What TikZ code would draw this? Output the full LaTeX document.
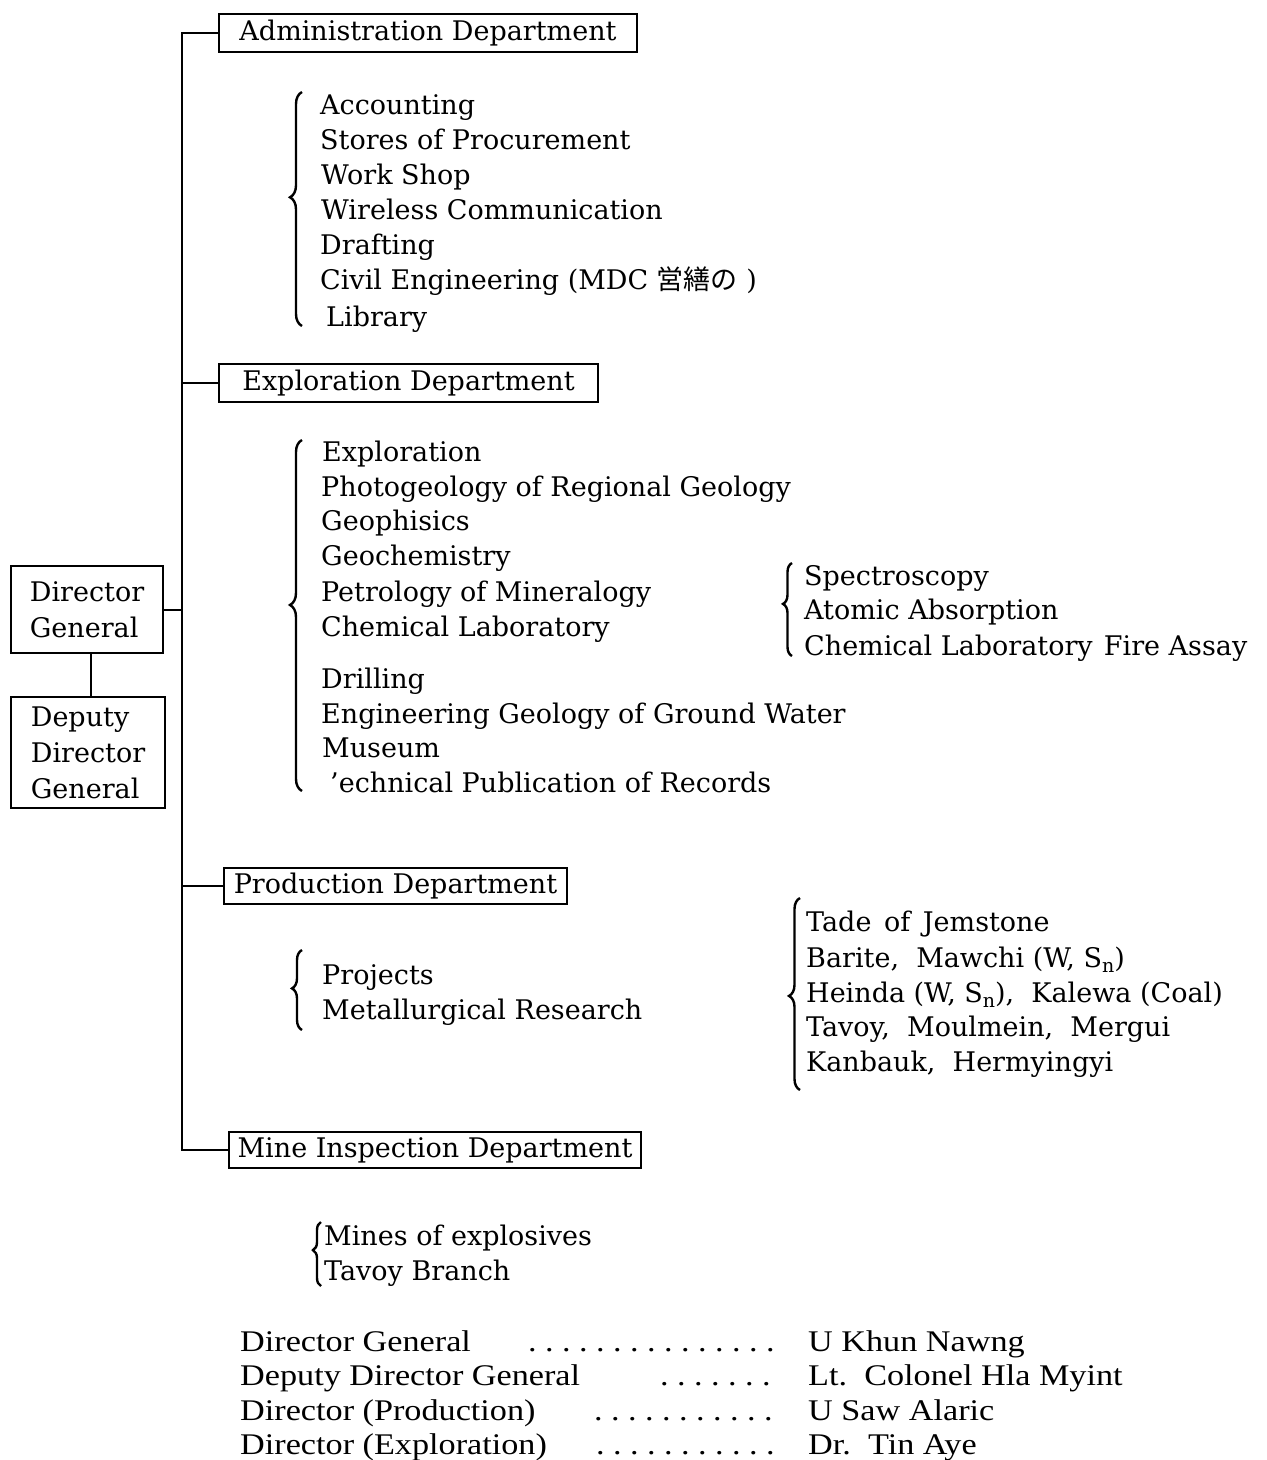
\documentclass[tikz,border=0pt]{standalone}
\usepackage{fontspec}
\setmainfont{DejaVu Serif}
\newfontfamily\cjkfont{Noto Sans CJK JP}
\newfontfamily\tablefont[FakeStretch=1.14]{Liberation Serif}
\usetikzlibrary{decorations.pathreplacing}
\newcommand\mainfs{\fontsize{27}{36}\selectfont}
\newcommand\tabfs{\tablefont\fontsize{30}{36}\selectfont}
\newcommand\subn{\raisebox{-5pt}{\fontsize{19}{19}\selectfont n}}
\newcommand\dd{\makebox[17pt][l]{.}}
\begin{document}
\begin{tikzpicture}[x=1pt,y=-1pt,
  dept/.style={draw, line width=2pt, inner sep=0pt, font=\mainfs},
  item/.style={anchor=base west, inner sep=0pt, font=\mainfs},
  tab/.style={anchor=base west, inner sep=0pt, font=\tabfs},
  conn/.style={line width=2pt},
  curly/.style={decorate, decoration={brace, amplitude=#1}, line width=2.4pt}]
\useasboundingbox[fill=white] (0,0) rectangle (1267,1460);

% department boxes
\node[dept, minimum width=418, minimum height=38] (admin) at (428,33) {Administration Department};
\node[dept, minimum width=379, minimum height=38] (expl) at (408.5,383) {Exploration Department};
\node[dept, minimum width=343, minimum height=36] (prod) at (395.5,886) {Production Department};
\node[dept, minimum width=412, minimum height=36] (mine) at (435,1150) {Mine Inspection Department};

\node[dept, minimum width=152, minimum height=87, align=left] (dg) at (87,609.5) {Director\\General};
\node[dept, minimum width=154, minimum height=111, align=left] (ddg) at (88,752.5) {Deputy\\Director\\General};

% connectors
\coordinate (trunk) at (182,0);
\coordinate (vline) at (91,0);
\draw[conn] (admin.west) -- (admin.west -| trunk) -- (mine.west -| trunk) -- (mine.west);
\draw[conn] (expl.west) -- (expl.west -| trunk);
\draw[conn] (prod.west) -- (prod.west -| trunk);
\draw[conn] (dg.east) -- (dg.east -| trunk);
\draw[conn] (dg.south -| vline) -- (ddg.north -| vline);

% Administration items
\coordinate (ab1) at (302,326); \coordinate (ab2) at (302,92);
\draw[curly=12pt, decoration={aspect=0.55}] (ab1) -- (ab2);
\node[item] (a1) at (320,114) {Accounting};
\node[item] (a2) at (320,149) {Stores of Procurement};
\node[item] (a3) at (321,184) {Work Shop};
\node[item] (a4) at (321,219) {Wireless Communication};
\node[item] (a5) at (320,254) {Drafting};
\node[item] (a6) at (320,289) {Civil Engineering (MDC {\cjkfont 営繕の} )};
\node[item] (a7) at (326,326) {Library};

% Exploration items
\coordinate (eb1) at (302,791); \coordinate (eb2) at (302,440);
\draw[curly=12pt, decoration={aspect=0.53}] (eb1) -- (eb2);
\node[item] (e1) at (322,461) {Exploration};
\node[item] (e2) at (321,496) {Photogeology of Regional Geology};
\node[item] (e3) at (321,530) {Geophisics};
\node[item] (e4) at (321,565) {Geochemistry};
\node[item] (e5) at (321,601) {Petrology of Mineralogy};
\node[item] (e6) at (321,636) {Chemical Laboratory};
\node[item] (e7) at (321,688) {Drilling};
\node[item] (e8) at (321,723) {Engineering Geology of Ground Water};
\node[item] (e9) at (322,757) {Museum};
\node[item] (e10) at (330,792) {'echnical Publication of Records};

% Chemical laboratory sub items
\coordinate (cb1) at (792,656); \coordinate (cb2) at (792,563);
\draw[curly=9pt, decoration={aspect=0.56}] (cb1) -- (cb2);
\node[item] (c1) at (804,585) {Spectroscopy};
\node[item] (c2) at (804,619) {Atomic Absorption};
\node[item] (c3) at (804,655) {Chemical Laboratory\kern-6pt\ \ Fire Assay};

% Production items
\coordinate (pb1) at (302,1030); \coordinate (pb2) at (302,950);
\draw[curly=10pt, decoration={aspect=0.52}] (pb1) -- (pb2);
\node[item] (p1) at (322,984) {Projects};
\node[item] (p2) at (322,1019) {Metallurgical Research};

\coordinate (rb1) at (800,1090); \coordinate (rb2) at (800,898);
\draw[curly=11pt, decoration={aspect=0.49}] (rb1) -- (rb2);
\node[item] (r1) at (806,931) {Tade\kern4pt\ of\kern4pt\ Jemstone};
\node[item] (r2) at (806,967) {Barite,\ \ Mawchi (W,\ S\subn)};
\node[item] (r3) at (806,1002) {Heinda (W, S\subn),\ \ Kalewa (Coal)};
\node[item] (r4) at (806,1036) {Tavoy,\ \ Moulmein,\ \ Mergui};
\node[item] (r5) at (806,1071) {Kanbauk,\ \ Hermyingyi};

% Mine inspection items
\coordinate (mb1) at (321,1286); \coordinate (mb2) at (321,1222);
\draw[curly=8pt, decoration={aspect=0.56}] (mb1) -- (mb2);
\node[item] (m1) at (324,1245) {Mines of explosives};
\node[item] (m2) at (324,1280) {Tavoy Branch};

% Bottom table
\node[tab] (t1) at (240,1351) {Director General};
\node[tab] (t2) at (240,1385) {Deputy Director General};
\node[tab] (t3) at (240,1420) {Director (Production)};
\node[tab] (t4) at (240,1454) {Director (Exploration)};
\node[tab] (d1) at (528,1351) {\dd\dd\dd\dd\dd\dd\dd\dd\dd\dd\dd\dd\dd\dd\dd};
\node[tab] (d2) at (660,1385) {\dd\dd\dd\dd\dd\dd\dd};
\node[tab] (d3) at (594,1420) {\dd\dd\dd\dd\dd\dd\dd\dd\dd\dd\dd};
\node[tab] (d4) at (596,1454) {\dd\dd\dd\dd\dd\dd\dd\dd\dd\dd\dd};
\node[tab] (n1) at (808,1351) {U Khun Nawng};
\node[tab] (n2) at (808,1385) {Lt.\ \ Colonel Hla Myint};
\node[tab] (n3) at (808,1420) {U Saw Alaric};
\node[tab] (n4) at (808,1454) {Dr.\ \ Tin Aye};
\end{tikzpicture}
\end{document}
